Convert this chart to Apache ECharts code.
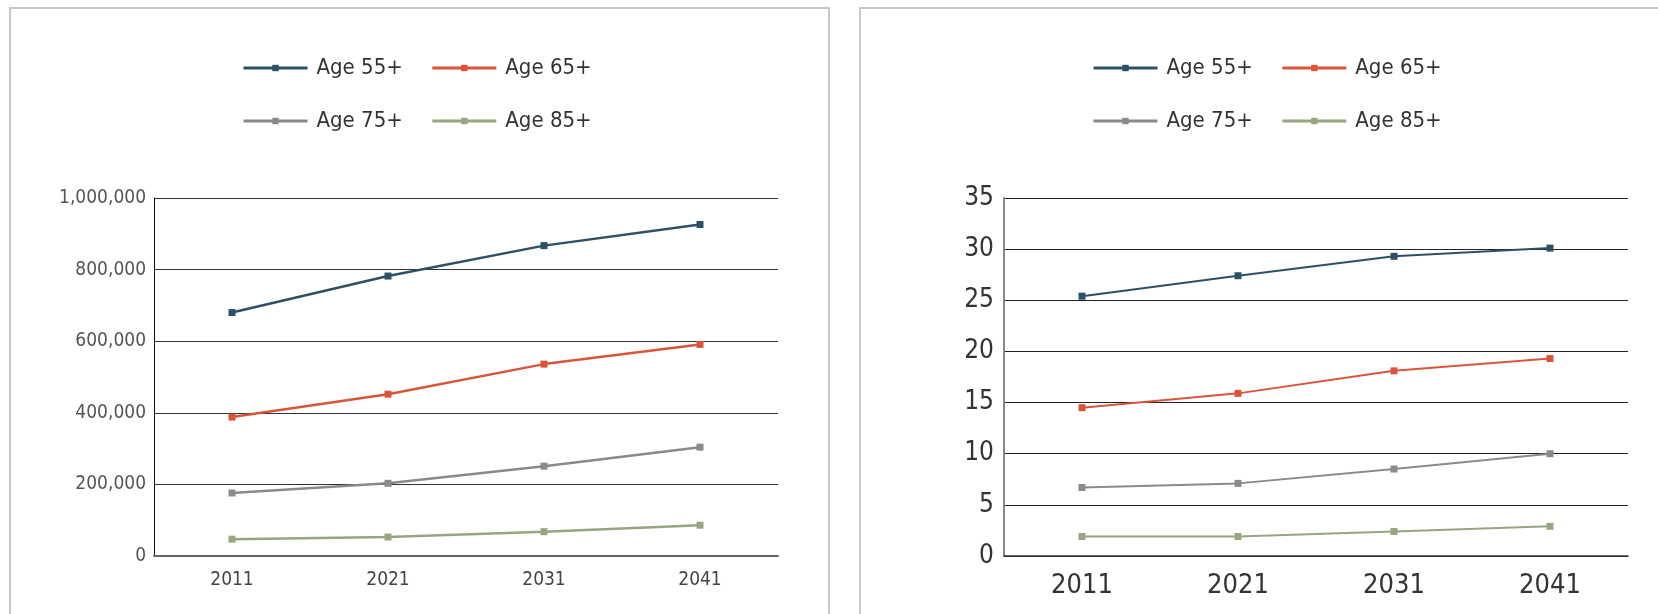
<!DOCTYPE html>
<html>
<head>
<meta charset="utf-8">
<script src="https://cdn.jsdelivr.net/npm/echarts@6/dist/echarts.min.js"></script>
<style>
    body { margin: 0; background: #ffffff; overflow: hidden; }
    .panel {
        position: absolute;
        top: 7px;
        height: 640px;
        border: 2px solid #c8c8c8;
        border-bottom: none;
        box-sizing: border-box;
    }
    #chart { position: absolute; left: 0; top: 0; width: 1658px; height: 614px; }
</style>
</head>
<body>
<div class="panel" style="left: 9px; width: 821px;"></div>
<div class="panel" style="left: 859px; width: 900px;"></div>
<div id="chart"></div>
<script>
const years = ['2011', '2021', '2031', '2041'];
const seriesNames = ['Age 55+', 'Age 65+', 'Age 75+', 'Age 85+'];
const seriesColors = ['#2c5064', '#d9553a', '#8a8a8a', '#97a67f'];

// left panel: number of people
const count55 = [680000, 782000, 867000, 926000];
const count65 = [388000, 452000, 536000, 591000];
const count75 = [176000, 203000, 251000, 304000];
const count85 = [47000, 53000, 68000, 86000];

// right panel: share of population (%)
const share55 = [25.4, 27.4, 29.3, 30.1];
const share65 = [14.5, 15.9, 18.1, 19.3];
const share75 = [6.7, 7.1, 8.5, 10.0];
const share85 = [1.9, 1.9, 2.4, 2.9];

const FONT = "'Liberation Sans Narrow', 'DejaVu Sans Condensed', 'Roboto', sans-serif";

document.addEventListener('DOMContentLoaded', function() {
    const chart = echarts.init(document.getElementById('chart'), null, { renderer: 'canvas' });

    function legend(left, top, names) {
        return {
            left: left,
            top: top,
            orient: 'horizontal',
            data: names,
            itemWidth: 64,
            itemHeight: 8,
            itemGap: 28,
            selectedMode: false,
            lineStyle: { width: 3 },
            textStyle: { fontFamily: FONT, fontSize: 22, color: '#333', padding: [0, 0, 0, 4] }
        };
    }

    function lineSeries(name, data, idx, width) {
        return {
            name: name,
            type: 'line',
            xAxisIndex: idx,
            yAxisIndex: idx,
            data: data,
            symbol: 'rect',
            symbolSize: 7,
            showSymbol: true,
            color: seriesColors[seriesNames.indexOf(name)],
            lineStyle: { width: width },
            animation: false
        };
    }

    const option = {
        backgroundColor: 'transparent',
        animation: false,
        legend: [
            legend(237, 52, ['Age 55+', 'Age 65+']),
            legend(237, 105, ['Age 75+', 'Age 85+']),
            legend(1087, 52, ['Age 55+', 'Age 65+']),
            legend(1087, 105, ['Age 75+', 'Age 85+'])
        ],
        grid: [
            { left: 154, top: 198, width: 624, height: 358, containLabel: false },
            { left: 1004, top: 198, width: 624, height: 358, containLabel: false }
        ],
        xAxis: [
            {
                type: 'category', gridIndex: 0, data: years, boundaryGap: true,
                axisLine: { lineStyle: { color: '#666', width: 2 } },
                axisTick: { inside: true, alignWithLabel: true, length: 9, lineStyle: { color: '#222' } },
                axisLabel: { fontFamily: FONT, fontSize: 19, color: '#444', margin: 15 }
            },
            {
                type: 'category', gridIndex: 1, data: years, boundaryGap: true,
                axisLine: { lineStyle: { color: '#333', width: 1.5 } },
                axisTick: { inside: true, alignWithLabel: true, length: 9, lineStyle: { color: '#333' } },
                axisLabel: { fontFamily: FONT, fontSize: 27, color: '#333', margin: 16 }
            }
        ],
        yAxis: [
            {
                type: 'value', gridIndex: 0, min: 0, max: 1000000, interval: 200000,
                axisLine: { show: true, lineStyle: { color: '#111', width: 1 } },
                axisTick: { show: false },
                splitLine: { lineStyle: { color: '#333', width: 1 } },
                axisLabel: {
                    fontFamily: FONT, fontSize: 19, color: '#555', margin: 8,
                    formatter: function(v) { return v.toLocaleString('en-US'); }
                }
            },
            {
                type: 'value', gridIndex: 1, min: 0, max: 35, interval: 5,
                axisLine: { show: true, lineStyle: { color: '#888', width: 2 } },
                axisTick: { show: false },
                splitLine: { lineStyle: { color: '#222', width: 1 } },
                axisLabel: { fontFamily: FONT, fontSize: 26, color: '#333', margin: 10 }
            }
        ],
        series: [
            lineSeries('Age 55+', count55, 0, 2.5),
            lineSeries('Age 65+', count65, 0, 2.5),
            lineSeries('Age 75+', count75, 0, 2.5),
            lineSeries('Age 85+', count85, 0, 2.5),
            lineSeries('Age 55+', share55, 1, 2),
            lineSeries('Age 65+', share65, 1, 2),
            lineSeries('Age 75+', share75, 1, 2),
            lineSeries('Age 85+', share85, 1, 2)
        ]
    };

    chart.setOption(option);
});
</script>
</body>
</html>
